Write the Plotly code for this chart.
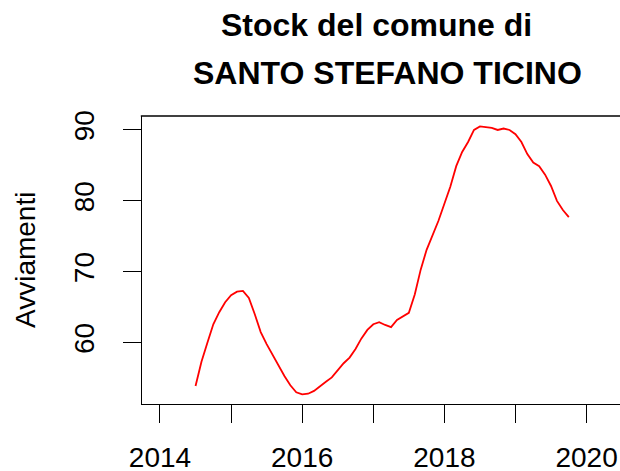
import plotly.graph_objects as go

# monthly values, Jul 2014 .. Oct 2019
start_year = 2014.5
values = [
    53.9, 57.3, 60.0, 62.6, 64.3, 65.7, 66.7, 67.2, 67.3, 66.3, 64.0, 61.5,
    59.8, 58.3, 56.7, 55.3, 54.0, 53.0, 52.7, 52.8, 53.2, 53.9, 54.5, 55.1,
    56.1, 57.1, 57.9, 59.1, 60.6, 61.8, 62.6, 62.9, 62.5, 62.2, 63.2, 63.7,
    64.2, 66.8, 70.3, 73.1, 75.2, 77.2, 79.6, 82.0, 84.9, 86.9, 88.3, 90.0,
    90.5, 90.4, 90.3, 90.0, 90.2, 90.0, 89.4, 88.3, 86.6, 85.4, 84.9, 83.7,
    82.1, 80.0, 78.7, 77.7,
]
times = [start_year + i / 12 for i in range(len(values))]

x_tickvals = [2014, 2015, 2016, 2017, 2018, 2019, 2020]
x_ticktext = ["2014", "", "2016", "", "2018", "", "2020"]
y_tickvals = [60, 70, 80, 90]

title_line1 = "Stock del comune di"
title_line2 = "SANTO STEFANO TICINO"
y_title = "Avviamenti"

FONT = "Liberation Sans, Arial, sans-serif"

fig = go.Figure()
fig.add_trace(go.Scatter(x=times, y=values, mode="lines",
                         line=dict(color="#FF0000", width=1.8),
                         showlegend=False, hoverinfo="skip"))

fig.update_layout(
    width=620, height=471,
    margin=dict(l=142, r=0, t=116, b=67),
    paper_bgcolor="white", plot_bgcolor="white",
    font=dict(family=FONT, color="black", size=28),
    xaxis=dict(range=[2013.747, 2020.47], tickvals=x_tickvals, ticktext=x_ticktext,
               ticks="outside", ticklen=18, tickwidth=1.3, tickcolor="black",
               showline=True, linecolor="black", linewidth=1.3, automargin=False,
               showgrid=False, zeroline=False, ticklabelstandoff=10,
               tickfont=dict(size=28, family=FONT)),
    yaxis=dict(range=[51.35, 91.97], tickvals=y_tickvals,
               ticks="outside", ticklen=18, tickwidth=1.3, tickcolor="black",
               showline=True, linecolor="black", linewidth=1.3, automargin=False,
               showgrid=False, zeroline=False, tickangle=-90, ticklabelstandoff=18,
               tickfont=dict(size=28, family=FONT)),
)

# top border of the box (right edge is cut off in the original)
fig.add_shape(type="line", xref="paper", yref="paper", x0=-0.0025, x1=1, y0=1, y1=1,
              line=dict(color="black", width=1.3))

fig.add_annotation(text=f"<b>{title_line1}</b>", xref="paper", yref="paper",
                   x=(376.5 - 142) / 478, y=(404 - 25.5) / 288, xanchor="center", yanchor="middle",
                   showarrow=False, font=dict(size=32, family=FONT))
fig.add_annotation(text=f"<b>{title_line2}</b>", xref="paper", yref="paper",
                   x=(387.5 - 142) / 478, y=(404 - 73.3) / 288, xanchor="center", yanchor="middle",
                   showarrow=False, font=dict(size=32, family=FONT))
fig.add_annotation(text=y_title, xref="paper", yref="paper",
                   x=(25 - 142) / 478, y=0.5, xanchor="center", yanchor="middle",
                   textangle=-90, showarrow=False, font=dict(size=28, family=FONT))

fig.write_html("out.html", config={"displayModeBar": False},
               post_script="document.body.style.margin='0px';document.body.style.overflow='hidden';")
